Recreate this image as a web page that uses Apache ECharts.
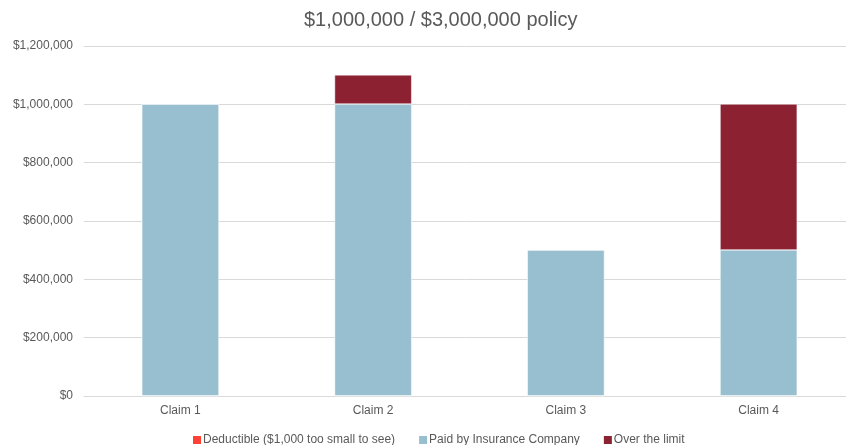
<!DOCTYPE html>
<html>
<head>
<meta charset="utf-8">
<script src="https://cdn.jsdelivr.net/npm/echarts@6/dist/echarts.min.js"></script>
<style>
html, body { margin: 0; padding: 0; background: #fff; }
#chart { width: 846px; height: 445px; }
</style>
</head>
<body>
<div id="chart"></div>
<script>
const categories = ['Claim 1', 'Claim 2', 'Claim 3', 'Claim 4'];
const deductible = [1000, 1000, 1000, 1000];
const paidByInsurer = [1000000, 1000000, 500000, 500000];
const overLimit = [0, 100000, 0, 500000];

const seriesNames = ['Deductible ($1,000 too small to see)', 'Paid by Insurance Company', 'Over the limit'];
const colors = ['#ff4136', '#98bfd0', '#8b2131'];

function money(v) {
    return '$' + v.toLocaleString('en-US');
}

const chart = echarts.init(document.getElementById('chart'));
const font = 'Liberation Sans, Arial, sans-serif';

// the plot runs a bit past the right edge, like the source picture (cropped)
chart.setOption({
    animation: false,
    title: {
        text: '$1,000,000 / $3,000,000 policy',
        left: 299,
        top: 5,
        textStyle: { fontFamily: font, fontSize: 20, fontWeight: 'normal', color: '#595959' }
    },
    legend: {
        top: 429,
        left: 188,
        itemWidth: 8,
        itemHeight: 8,
        itemGap: 24,
        itemStyle: { borderWidth: 0 },
        icon: 'rect',
        textStyle: { fontFamily: font, fontSize: 12, color: '#595959', padding: [0, 0, 0, -3] },
        data: seriesNames
    },
    grid: { left: 84, width: 771, top: 46, bottom: 49, outerBoundsMode: 'none' },
    xAxis: {
        type: 'category',
        data: categories,
        axisTick: { show: false },
        axisLine: { lineStyle: { color: '#d9d9d9' } },
        axisLabel: { fontFamily: font, fontSize: 12, color: '#595959', margin: 9 }
    },
    yAxis: {
        type: 'value',
        min: 0,
        max: 1200000,
        interval: 200000,
        axisLabel: { fontFamily: font, fontSize: 12, color: '#595959', formatter: money, margin: 11 },
        splitLine: { lineStyle: { color: '#d9d9d9' } }
    },
    series: [deductible, paidByInsurer, overLimit].map((d, i) => ({
        name: seriesNames[i],
        type: 'bar',
        stack: 'total',
        data: d,
        barWidth: '40%',
        itemStyle: { color: colors[i], borderColor: '#ffffff', borderWidth: 0.5 }
    }))
});
</script>
</body>
</html>
